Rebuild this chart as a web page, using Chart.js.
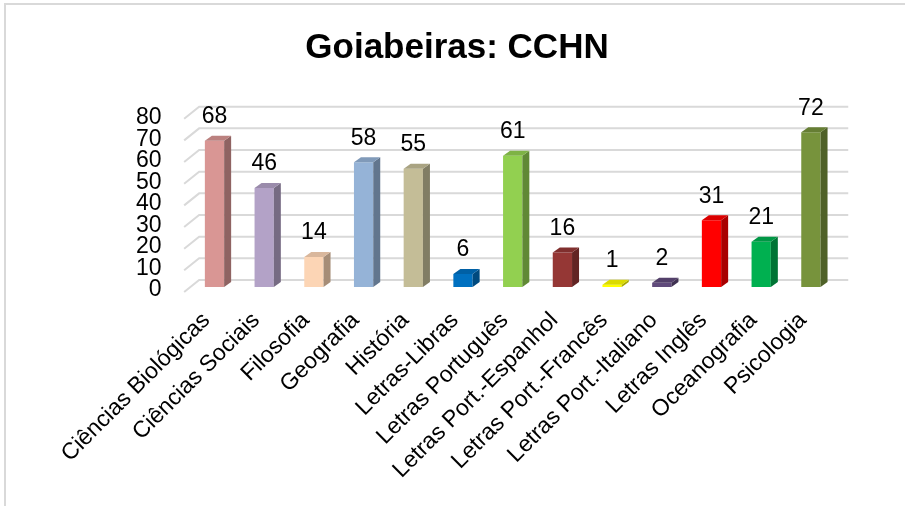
<!DOCTYPE html>
<html><head><meta charset="utf-8">
<script src="https://cdn.jsdelivr.net/npm/chart.js@4/dist/chart.umd.min.js"></script>
<style>
html,body{margin:0;padding:0;background:#fff;overflow:hidden}
#wrap{position:relative;width:905px;height:506px}
#frame{position:absolute;left:4px;top:3px;right:0;bottom:0;border-left:2px solid #d9d9d9;border-top:2px solid #d9d9d9;pointer-events:none}
canvas{position:absolute;left:0;top:0}
</style></head><body>
<div id="wrap"><canvas id="c" width="905" height="506"></canvas><div id="frame"></div></div>
<script>
const categories = ["Ciências Biológicas","Ciências Sociais","Filosofia","Geografia","História","Letras-Libras","Letras Português","Letras Port.-Espanhol","Letras Port.-Francês","Letras Port.-Italiano","Letras Inglês","Oceanografia","Psicologia"];
const values = [68,46,14,58,55,6,61,16,1,2,31,21,72];
const barColors = ["#D99694","#B3A2C7","#FCD5B5","#95B3D7","#C4BD97","#0070C0","#92D050","#953735","#FFFF00","#604A7B","#FF0000","#00B050","#77933C"];
const yTicks = [0,10,20,30,40,50,60,70,80];
const titleText = "Goiabeiras: CCHN";

const FONT = "'Liberation Sans', Arial, sans-serif";
function shade(hex, f){
  const n = parseInt(hex.slice(1),16);
  const r = Math.round(((n>>16)&255)*f), g = Math.round(((n>>8)&255)*f), b = Math.round((n&255)*f);
  return `rgb(${r},${g},${b})`;
}
const DX = 7, DY = -5;

const bar3d = {
  id: 'bar3d',
  beforeDatasetsDraw(chart){
    const ctx = chart.ctx, y = chart.scales.y, ca = chart.chartArea;
    const yMax = yTicks[yTicks.length-1];
    ctx.save();
    ctx.strokeStyle = '#d9d9d9';
    ctx.lineWidth = 2;
    yTicks.forEach(v => {
      const by = y.getPixelForValue(v) - 7 - 1.3*v/yMax;
      ctx.beginPath();
      ctx.moveTo(ca.left - 5.5, by + 12);
      ctx.lineTo(ca.left + 9.5, by);
      ctx.lineTo(ca.right + 12.5, by);
      ctx.stroke();
    });
    ctx.restore();
  },
  afterDatasetsDraw(chart){
    const ctx = chart.ctx;
    const meta = chart.getDatasetMeta(0);
    ctx.save();
    meta.data.forEach((bar, i) => {
      const p = bar.getProps(['x','y','base','width'], true);
      const l = p.x - p.width/2, r = p.x + p.width/2, t = p.y, b = p.base;
      const c = barColors[i];
      ctx.fillStyle = shade(c, 0.66);
      ctx.beginPath();
      ctx.moveTo(r, t); ctx.lineTo(r+DX, t+DY); ctx.lineTo(r+DX, b+DY); ctx.lineTo(r, b); ctx.closePath();
      ctx.fill();
      ctx.fillStyle = shade(c, 0.86);
      ctx.beginPath();
      ctx.moveTo(l, t); ctx.lineTo(l+DX, t+DY); ctx.lineTo(r+DX, t+DY); ctx.lineTo(r, t); ctx.closePath();
      ctx.fill();
    });
    ctx.fillStyle = '#000';
    ctx.font = `23px ${FONT}`;
    ctx.textAlign = 'center';
    ctx.textBaseline = 'middle';
    meta.data.forEach((bar, i) => {
      ctx.fillText(String(values[i]), bar.x, bar.y - 24);
    });
    ctx.restore();
  }
};

new Chart(document.getElementById('c'), {
  type: 'bar',
  data: {
    labels: categories,
    datasets: [{
      data: values,
      backgroundColor: barColors,
      borderWidth: 0,
      barPercentage: 0.388,
      categoryPercentage: 1
    }]
  },
  options: {
    responsive: false,
    animation: false,
    devicePixelRatio: 1,
    layout: { padding: { left: 9, right: 0, top: 0, bottom: 0 } },
    plugins: {
      legend: { display: false },
      tooltip: { enabled: false },
      title: {
        display: true,
        text: titleText,
        color: '#000',
        font: { family: FONT, size: 35, weight: 'bold' },
        padding: { top: 27, bottom: 46 }
      }
    },
    scales: {
      x: {
        grid: { display: false, drawTicks: false },
        border: { display: false },
        ticks: {
          autoSkip: false, minRotation: 45, maxRotation: 45, labelOffset: -8,
          color: '#000', font: { family: FONT, size: 23 }, padding: 20
        },
        afterFit(s){ s.height = 219; }
      },
      y: {
        min: 0, max: 80,
        grid: { display: false, drawTicks: false },
        border: { display: false },
        ticks: {
          autoSkip: false, stepSize: 10, color: '#000', font: { family: FONT, size: 23 }, padding: 28, labelOffset: 3
        },
        afterFit(s){ s.width = 180.65; }
      },
      yRight: {
        type: 'linear',
        position: 'right',
        min: 0, max: 80,
        grid: { display: false, drawTicks: false },
        border: { display: false },
        ticks: { display: false },
        afterFit(s){ s.width = 69.25; }
      }
    }
  },
  plugins: [bar3d]
});
</script>
</body></html>
